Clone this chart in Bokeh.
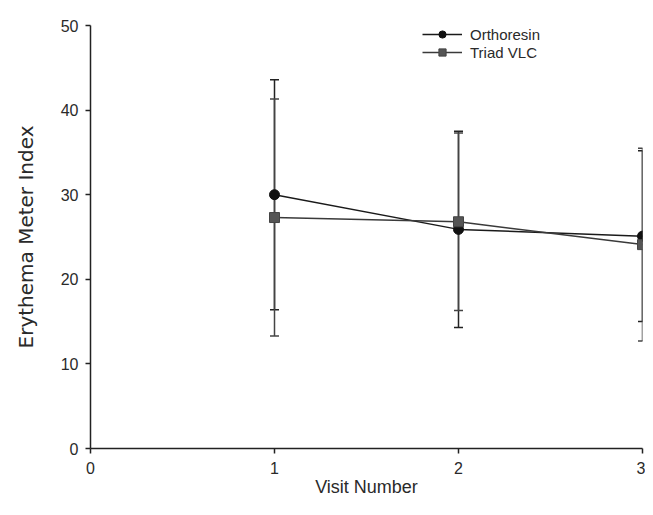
from bokeh.plotting import figure
from bokeh.models import ColumnDataSource, Whisker, TeeHead, Range1d, FixedTicker, Legend, LegendItem
from bokeh.embed import file_html
from bokeh.resources import INLINE

visits = [1, 2, 3]
ortho_mean = [30.0, 25.9, 25.1]
ortho_sd = [13.6, 11.6, 10.1]
triad_mean = [27.3, 26.8, 24.1]
triad_sd = [14.0, 10.5, 11.4]
x_ticks = [0, 1, 2, 3]
y_ticks = [0, 10, 20, 30, 40, 50]

FONT = "Liberation Sans"
TXT = "#2a2a2a"

p = figure(width=645, height=507, output_backend="svg", toolbar_location=None,
           x_range=Range1d(0, 3), y_range=Range1d(0, 50),
           min_border_left=90, min_border_right=3, min_border_top=25, min_border_bottom=59)
p.outline_line_color = None
p.xgrid.visible = False
p.ygrid.visible = False
p.background_fill_color = "white"
p.border_fill_color = "white"

for ax in (p.xaxis[0], p.yaxis[0]):
    ax.axis_line_color = "#222"
    ax.axis_line_width = 1.5
    ax.major_tick_line_color = "#222"
    ax.major_tick_line_width = 1.5
    ax.major_tick_out = 5
    ax.major_tick_in = 0
    ax.minor_tick_line_color = None
    ax.major_label_text_font = FONT
    ax.major_label_text_font_size = "16px"
    ax.major_label_text_color = TXT
    ax.axis_label_text_font = FONT
    ax.axis_label_text_font_size = "18px"
    ax.axis_label_text_font_style = "normal"
    ax.axis_label_text_color = TXT

p.yaxis.axis_label_text_font = "DejaVu Sans"
p.yaxis.axis_label_text_font_size = "20px"

p.xaxis.ticker = FixedTicker(ticks=x_ticks)
p.yaxis.ticker = FixedTicker(ticks=y_ticks)
p.xaxis.axis_label = "Visit Number"
p.yaxis.axis_label = "Erythema Meter Index"
p.xaxis.major_label_standoff = 8
p.xaxis.axis_label_standoff = 0
p.yaxis.major_label_standoff = 7
p.yaxis.axis_label_standoff = 20

o_src = ColumnDataSource(dict(x=visits, y=ortho_mean,
                              upper=[m + s for m, s in zip(ortho_mean, ortho_sd)],
                              lower=[m - s for m, s in zip(ortho_mean, ortho_sd)]))
t_src = ColumnDataSource(dict(x=visits, y=triad_mean,
                              upper=[m + s for m, s in zip(triad_mean, triad_sd)],
                              lower=[m - s for m, s in zip(triad_mean, triad_sd)]))

for src, col in ((o_src, "#222"), (t_src, "#444")):
    w = Whisker(base="x", upper="upper", lower="lower", source=src,
                line_color=col, line_width=1.5,
                upper_head=TeeHead(size=9, line_color=col, line_width=1.5),
                lower_head=TeeHead(size=9, line_color=col, line_width=1.5))
    p.add_layout(w)

o_line = p.line("x", "y", source=o_src, line_color="#1a1a1a", line_width=1.5)
o_mark = p.scatter("x", "y", source=o_src, marker="circle", size=10,
                   fill_color="#111", line_color="#111")
t_line = p.line("x", "y", source=t_src, line_color="#3a3a3a", line_width=1.5)
t_mark = p.scatter("x", "y", source=t_src, marker="square", size=10,
                   fill_color="#555", line_color="#444")

legend = Legend(items=[LegendItem(label="Orthoresin", renderers=[o_line, o_mark]),
                       LegendItem(label="Triad VLC", renderers=[t_line, t_mark])],
                location=(332, 387), orientation="vertical",
                border_line_color=None, background_fill_alpha=0,
                label_text_font=FONT, label_text_font_size="15px", label_text_color=TXT,
                glyph_width=40, glyph_height=18, label_height=18, spacing=0,
                padding=0, margin=0, label_standoff=8)
p.add_layout(legend)

open("out.html", "w").write(file_html(p, INLINE))
